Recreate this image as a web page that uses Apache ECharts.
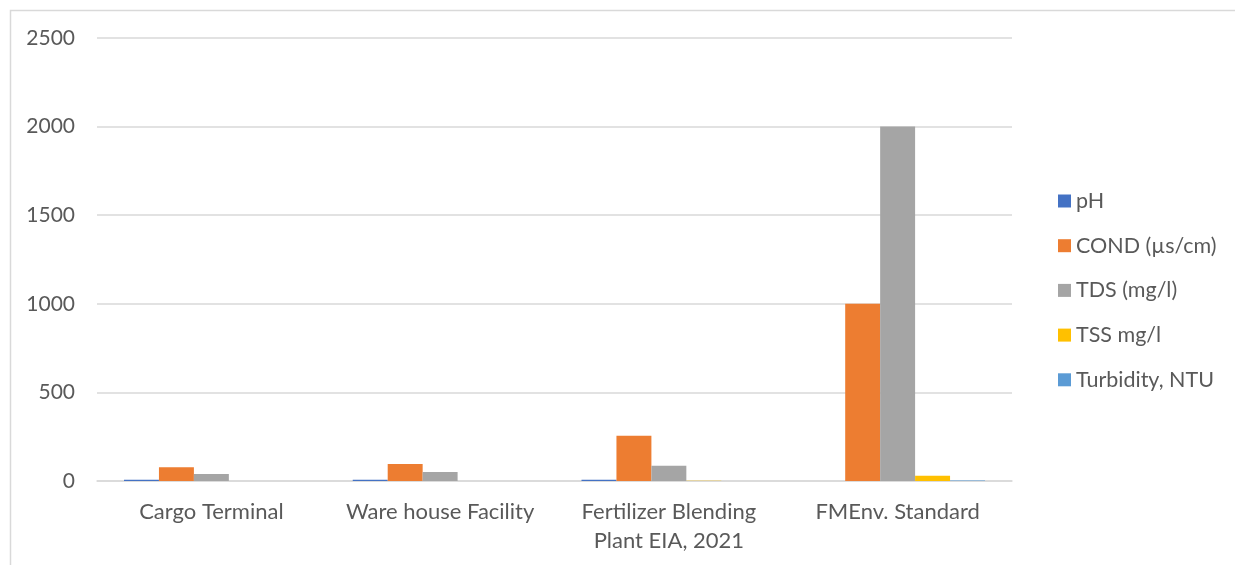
<!DOCTYPE html>
<html>
<head>
<meta charset="utf-8">
<script src="https://cdn.jsdelivr.net/npm/echarts@6/dist/echarts.min.js"></script>
<style>
  html, body { margin: 0; padding: 0; background: #ffffff; }
  #chart { width: 1235px; height: 565px; }
</style>
</head>
<body>
<div id="chart"></div>
<script>
// Sampling locations
const categories = ['Cargo Terminal', 'Ware house Facility', 'Fertilizer Blending\nPlant EIA, 2021', 'FMEnv. Standard'];

// Water quality parameters per location
const pH = [7.1, 6.9, 7.3, null];
const cond = [78, 96, 255, 1000];
const tds = [40, 51, 86, 2000];
const tss = [0.5, 0.6, 0.8, 30];
const turbidity = [0.3, 0.4, 0.5, 3];

const yTicks = { min: 0, max: 2500, interval: 500 };

const seriesDefs = [
  { name: 'pH', data: pH, color: '#4472C4' },
  { name: 'COND (\u00b5s/cm)', data: cond, color: '#ED7D31' },
  { name: 'TDS (mg/l)', data: tds, color: '#A5A5A5' },
  { name: 'TSS mg/l', data: tss, color: '#FFC000' },
  { name: 'Turbidity, NTU', data: turbidity, color: '#5B9BD5' }
];

const textColor = '#595959';
const fontFamily = 'Lato, "Liberation Sans", sans-serif';

const chart = echarts.init(document.getElementById('chart'), null, { renderer: 'canvas' });

chart.setOption({
  animation: false,
  backgroundColor: '#ffffff',
  textStyle: { fontFamily: fontFamily },
  graphic: [{
    type: 'rect',
    left: 8, top: 8,
    shape: { x: 0.5, y: 0.5, width: 1240, height: 580 },
    style: { fill: 'none', stroke: '#d9d9d9', lineWidth: 1.5 },
    silent: true
  }],
  grid: { left: 97, right: 223, top: 38, bottom: 84 },
  legend: {
    orient: 'vertical',
    left: 1053,
    top: 185,
    itemWidth: 13,
    itemHeight: 13,
    itemGap: 22.7,
    icon: 'rect',
    textStyle: { color: textColor, fontSize: 21.5, lineHeight: 20, fontFamily: fontFamily },
    data: seriesDefs.map(s => s.name)
  },
  xAxis: {
    type: 'category',
    data: categories,
    axisLine: { show: true, lineStyle: { color: '#d9d9d9', width: 1.5 } },
    axisTick: { show: false },
    axisLabel: { color: textColor, fontSize: 22, lineHeight: 29, margin: 16, fontFamily: fontFamily, interval: 0 }
  },
  yAxis: {
    type: 'value',
    min: yTicks.min,
    max: yTicks.max,
    interval: yTicks.interval,
    axisLine: { show: false },
    axisTick: { show: false },
    splitLine: { lineStyle: { color: '#d9d9d9', width: 1.5 } },
    axisLabel: { color: textColor, fontSize: 21, margin: 22, fontFamily: fontFamily, formatter: v => String(v) }
  },
  series: seriesDefs.map(s => ({
    name: s.name,
    type: 'bar',
    data: s.data,
    barGap: '0%',
    barCategoryGap: '23.6%',
    itemStyle: { color: s.color }
  }))
});
</script>
</body>
</html>
